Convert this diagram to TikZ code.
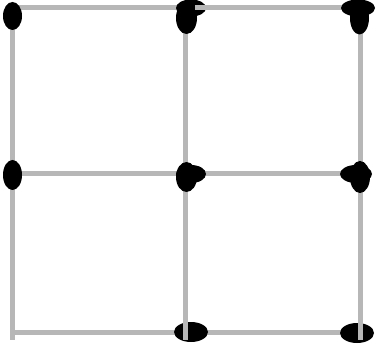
\documentclass[tikz,border=0pt]{standalone}
\definecolor{gridgray}{RGB}{183,183,183}
\tikzset{
  gridline/.style={draw=gridgray, line width=5pt},
  tipfill/.style={fill=black}
}
\begin{document}
\begin{tikzpicture}[x=1pt,y=-1pt]
\useasboundingbox (0,0) rectangle (383,350);
% grid points
\coordinate (a1) at (12.5,7.5);
\coordinate (a2) at (12.5,174);
\coordinate (a3) at (12.5,332.5);
\coordinate (a3e) at (12.5,340);
\coordinate (b1) at (185.5,7.5);
\coordinate (b2) at (185.5,174);
\coordinate (b3) at (185.5,332.5);
\coordinate (b3e) at (185.5,340);
\coordinate (c1) at (360,7.5);
\coordinate (c2) at (360,174);
\coordinate (c3) at (360,332.5);
\coordinate (c3e) at (360,340);
\coordinate (bt) at (195,7.5);
\coordinate (b3t) at (185.5,322);
\coordinate (c3t) at (360,322);
% grid lines
\draw[gridline] (a1) -- (a3e);
\draw[gridline] (b1) -- (b3);
\draw[gridline] (c1) -- (c3);
\draw[gridline] (a1) -- (c1);
\draw[gridline] (a2) -- (c2);
\draw[gridline] (a3) -- (c3);
% ellipse tips
\fill[tipfill] (12.5,16) ellipse [x radius=9.5, y radius=14];
\fill[tipfill] (12.5,175) ellipse [x radius=9.5, y radius=15];
\fill[tipfill] (191,8) ellipse [x radius=15, y radius=8.5];
\fill[tipfill] (186.5,18) ellipse [x radius=10.5, y radius=16];
\fill[tipfill] (191,174) ellipse [x radius=15, y radius=9];
\fill[tipfill] (186.5,177) ellipse [x radius=10.5, y radius=15];
\fill[tipfill] (358,8) ellipse [x radius=17, y radius=8.5];
\fill[tipfill] (359.5,18) ellipse [x radius=9.5, y radius=16.5];
\fill[tipfill] (356,174) ellipse [x radius=16, y radius=9];
\fill[tipfill] (360,177) ellipse [x radius=10, y radius=16];
\fill[tipfill] (191,332) ellipse [x radius=17, y radius=10];
\fill[tipfill] (357,333) ellipse [x radius=17, y radius=10];
% lines drawn over tips
\draw[gridline] (bt) -- (340,7.5);
\draw[gridline] (b3t) -- (b3e);
\draw[gridline] (c3t) -- (c3e);
\end{tikzpicture}
\end{document}
